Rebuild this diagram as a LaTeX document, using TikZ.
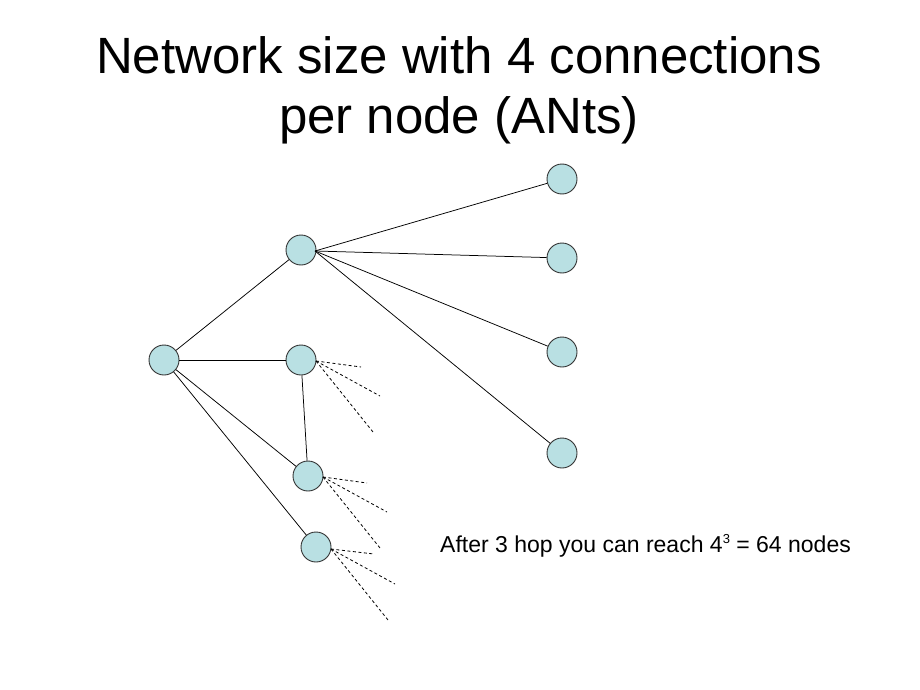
\documentclass[tikz,border=0pt]{standalone}
\usepackage{fontspec}
\setmainfont{Liberation Sans}
\definecolor{nodefill}{RGB}{185,224,227}
\begin{document}
\begin{tikzpicture}[x=1pt,y=-1pt,
  nd/.style={circle,draw=black!80,fill=nodefill,line width=0.9pt,minimum size=30pt,inner sep=0pt},
  edge/.style={line width=0.75pt},
  dsh/.style={line width=0.8pt,dash pattern=on 3pt off 2.5pt}]
\useasboundingbox (0,0) rectangle (920,690);
\node[font=\fontsize{51}{60}\selectfont,align=center] (title) at (459,90) {Network size with 4 connections\\per node (ANts)};
\node[nd] (L) at (164,360) {};
\node[nd] (A) at (301,250) {};
\node[nd] (B) at (301,360) {};
\node[nd] (C) at (308,476) {};
\node[nd] (D) at (316,547) {};
\node[nd] (R1) at (562,179) {};
\node[nd] (R2) at (562,258) {};
\node[nd] (R3) at (562,352) {};
\node[nd] (R4) at (562,453) {};
\draw[edge] (L) -- (A);
\draw[edge] (L) -- (B);
\draw[edge] (L) -- (C);
\draw[edge] (L) -- (D);
\draw[edge] (B) -- (C);
\coordinate (Ae) at (315,251);
\foreach \r in {R1,R2,R3,R4} \draw[edge] (Ae) -- (\r);
\coordinate (b1) at (361,367); \coordinate (b2) at (380,396); \coordinate (b3) at (373,432);
\coordinate (c1) at (367,483); \coordinate (c2) at (387,512); \coordinate (c3) at (380,548);
\coordinate (d1) at (374,554); \coordinate (d2) at (395,584); \coordinate (d3) at (388,620);
\coordinate (Bs) at (316,361); \coordinate (Cs) at (323,477); \coordinate (Ds) at (331,549);
\foreach \e in {b1,b2,b3} \draw[dsh] (Bs) -- (\e);
\foreach \e in {c1,c2,c3} \draw[dsh] (Cs) -- (\e);
\foreach \e in {d1,d2,d3} \draw[dsh] (Ds) -- (\e);
\node[font=\fontsize{23}{26}\selectfont,anchor=west,inner sep=0pt] (note) at (440,546) {After 3 hop you can reach 4\raisebox{0.7ex}{\fontsize{13}{15}\selectfont 3} = 64 nodes};
\end{tikzpicture}
\end{document}
